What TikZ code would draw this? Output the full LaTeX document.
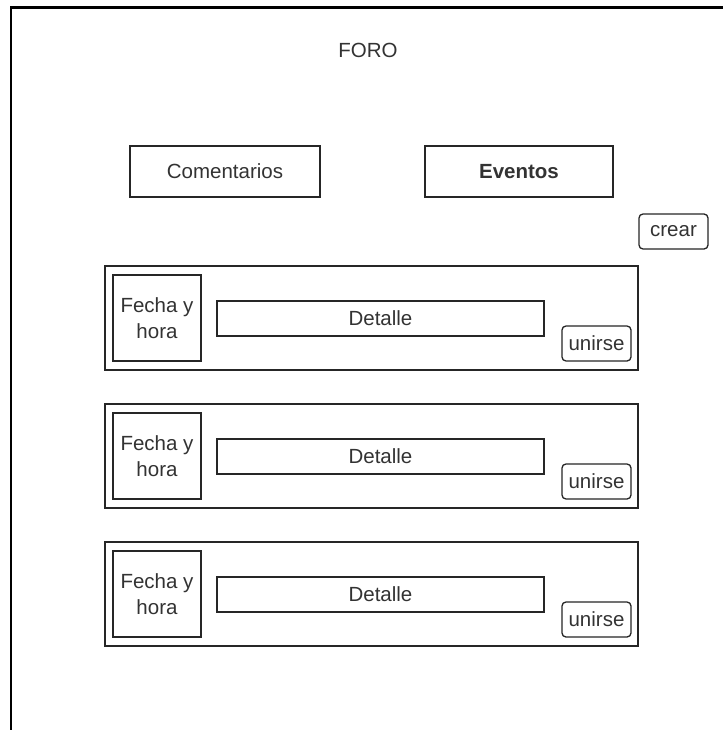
\documentclass[tikz,border=0pt]{standalone}
\usepackage{fontspec}
\setmainfont{Liberation Sans}
\begin{document}
\begin{tikzpicture}[x=1pt,y=-1pt,
  box/.style={draw=black!85,line width=1.3pt,fill=white,rectangle,inner sep=0pt,
    font=\fontsize{20.5}{24}\selectfont,text=black!80,align=center},
  btn/.style={box,rounded corners=4pt},
  lbl/.style={font=\fontsize{20.5}{24}\selectfont,text=black!80,inner sep=0pt}]
\useasboundingbox (0,0) rectangle (722,730);
% page frame (continues past the right and bottom edges)
\draw[line width=2.2pt,black] (11,740) -- (11,7.5) -- (740,7.5);
\node[lbl] (title) at (368,50) {FORO};
% tabs
\node[box,minimum width=190pt,minimum height=51pt] (coment) at (225,171.5) {Comentarios};
\node[box,minimum width=188pt,minimum height=51pt,font=\fontsize{20.5}{24}\selectfont\bfseries] (eventos) at (519,171.5) {Eventos};
\node[btn,minimum width=69pt,minimum height=35pt] (crear) at (673.5,231.5) {crear};
% event cards
\foreach \i/\t in {1/266,2/404,3/542}{
  \node[box,minimum width=533pt,minimum height=104pt] (card\i) at (371.5,\t+52) {};
  \node[box,minimum width=88pt,minimum height=86pt,font=\fontsize{20.5}{26.5}\selectfont] (fecha\i) at (157,\t+52) {Fecha y\\hora};
  \node[box,minimum width=327pt,minimum height=35pt] (detalle\i) at (380.5,\t+52.5) {Detalle};
  \node[btn,minimum width=69pt,minimum height=35pt] (unirse\i) at (596.5,\t+77.5) {unirse};
}
\end{tikzpicture}
\end{document}
